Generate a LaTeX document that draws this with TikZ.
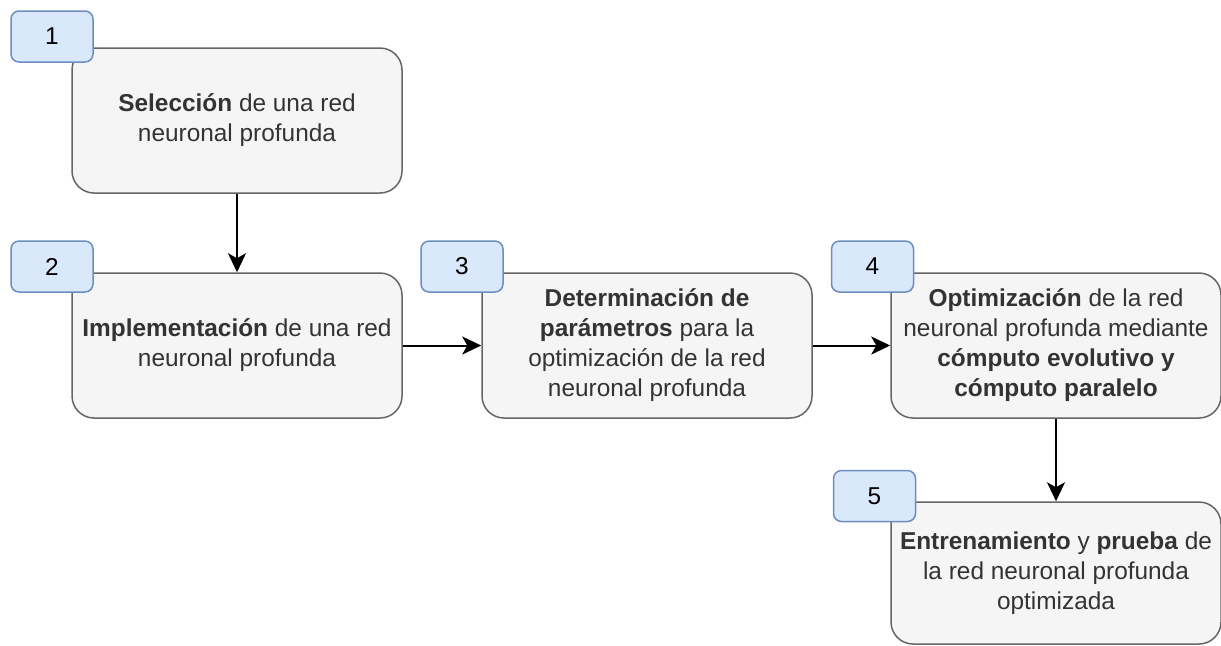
\documentclass[tikz,border=0pt]{standalone}
\usepackage{fontspec}
\setmainfont{Liberation Sans}
\usetikzlibrary{arrows.meta}
\definecolor{boxfill}{HTML}{F5F5F5}
\definecolor{boxline}{HTML}{666666}
\definecolor{boxtext}{HTML}{333333}
\definecolor{tagfill}{HTML}{DAE8FC}
\definecolor{tagline}{HTML}{6C8EBF}
\tikzset{
    stage/.style={draw=boxline, fill=boxfill, text=boxtext, line width=0.75pt,
        rounded corners=11pt, minimum width=165pt, minimum height=72.5pt,
        inner sep=0pt, align=center, font=\fontsize{12.2}{15}\selectfont},
    tag/.style={draw=tagline, fill=tagfill, text=black, line width=0.75pt,
        rounded corners=4pt, minimum width=41pt, minimum height=25.5pt,
        inner sep=0pt, font=\fontsize{12.2}{15}\selectfont},
    flow/.style={-{Stealth[length=9.5pt,width=9pt,inset=2.5pt]}, line width=1pt}
}
\begin{document}
\begin{tikzpicture}[x=0.5pt,y=-0.5pt]
    \useasboundingbox (0,0) rectangle (1221,645);
    % etapas
    \node[stage] (sel)   at (237,120.5)  {\textbf{Selección} de una red\\neuronal profunda};
    \node[stage] (impl)  at (237,345.5)  {\textbf{Implementación} de una red\\neuronal profunda};
    \node[stage] (param) at (647,345.5)  {\textbf{Determinación de}\\\textbf{parámetros} para la\\optimización de la red\\neuronal profunda};
    \node[stage] (optim) at (1056,345.5) {\textbf{Optimización} de la red\\neuronal profunda mediante\\\textbf{cómputo evolutivo y}\\\textbf{cómputo paralelo}};
    \node[stage, minimum height=71pt] (entr) at (1056,573) {\textbf{Entrenamiento} y \textbf{prueba} de\\la red neuronal profunda\\optimizada};
    % numeros
    \node[tag] (t1) at (52,36.5)    {1};
    \node[tag] (t2) at (52,266.5)   {2};
    \node[tag] (t3) at (462,266.5)  {3};
    \node[tag] (t4) at (872.5,266.5) {4};
    \node[tag] (t5) at (874.5,496)  {5};
    % flechas
    \draw[flow] (sel) -- (impl);
    \draw[flow] (impl) -- (param);
    \draw[flow] (param) -- (optim);
    \draw[flow] (optim) -- (entr);
\end{tikzpicture}
\end{document}
